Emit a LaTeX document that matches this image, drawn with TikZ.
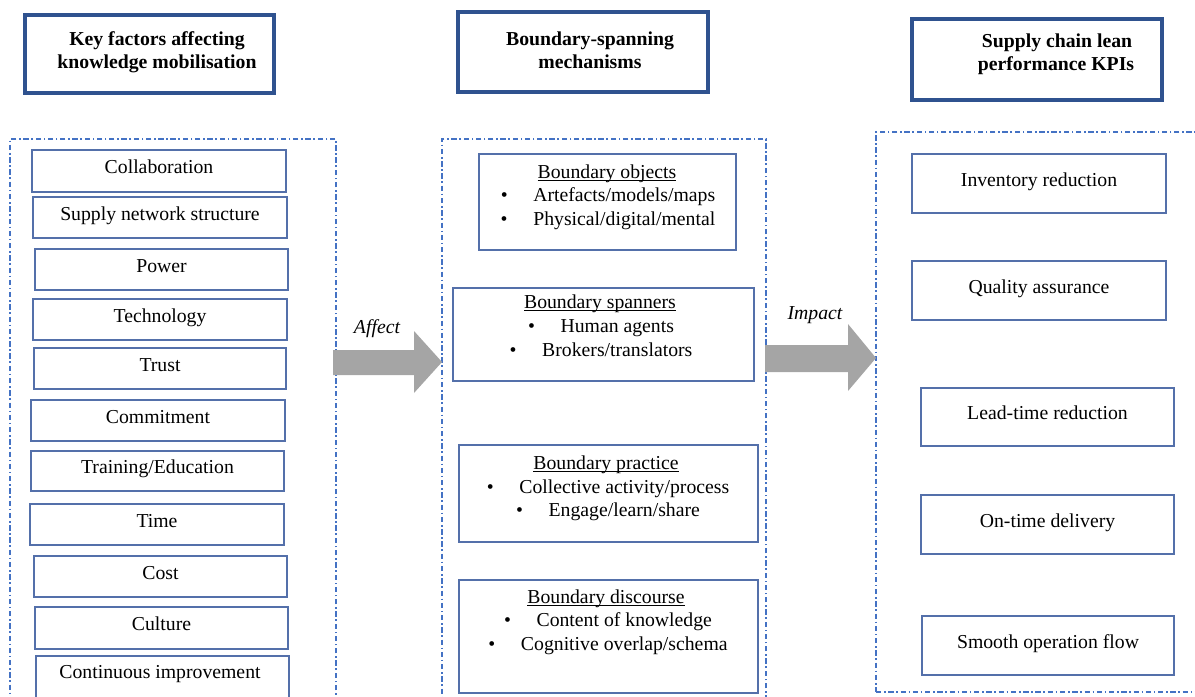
\documentclass[tikz,border=0pt]{standalone}
\usepackage{fontspec}
\setmainfont{Liberation Serif}
\definecolor{headblue}{RGB}{47,82,143}
\definecolor{boxblue}{RGB}{84,112,170}
\definecolor{frameblue}{RGB}{68,114,196}
\definecolor{arrowgray}{RGB}{165,165,165}
\newcommand{\fsz}{\fontsize{14.8}{17.7}\selectfont}
\newcommand{\itm}{\textbullet\hspace{1.3em}}
\newcommand{\ttl}[1]{\underline{\smash{#1}}}
% rectangle node from its corner coordinates: style, name, x1, y1, x2, y2, text
\newcommand{\cbox}[7]{%
  \node[#1, minimum width={(#5-#3)*0.75pt}, minimum height={(#6-#4)*0.75pt}]
    (#2) at ({(#3+#5)/2},{(#4+#6)/2}) {#7};}
\begin{document}
\begin{tikzpicture}[x=0.75pt,y=-0.75pt,
  header/.style={draw=headblue, line width=2.4pt, inner sep=0pt},
  frame/.style={draw=frameblue, line width=0.9pt,
    dash pattern=on 4pt off 2pt on 1.2pt off 2pt, inner sep=0pt},
  itembox/.style={draw=boxblue, line width=0.9pt, inner sep=0pt,
    text height=0.75em, text depth=0.35em, font=\fsz},
  txt/.style={inner sep=0pt, anchor=base, font=\fsz},
  hd/.style={txt, font=\fsz\bfseries},
  flow/.style={fill=arrowgray},
]
\useasboundingbox (0,0) rectangle (1195,696);
\clip (0,0) rectangle (1195,696);

% column headings
\cbox{header}{h1}{25}{15}{274}{93}{}
\node[hd] (h1a) at (157,45) {Key factors affecting};
\node[hd] (h1b) at (157,68) {knowledge mobilisation};

\cbox{header}{h2}{458}{12}{708}{92}{}
\node[hd] (h2a) at (590,45) {Boundary-spanning};
\node[hd] (h2b) at (590,68) {mechanisms};

\cbox{header}{h3}{912}{19}{1162}{100}{}
\node[hd] (h3a) at (1057,47) {Supply chain lean};
\node[hd] (h3b) at (1056,70) {performance KPIs};

% dash-dotted column frames
\cbox{frame}{f1}{10}{139}{336}{720}{}
\cbox{frame}{f2}{442}{139}{766}{720}{}
\cbox{frame}{f3}{876}{132}{1220}{692}{}

% key factors
\cbox{itembox}{k1}{32}{150}{286}{192}{Collaboration}
\cbox{itembox}{k2}{33}{197}{287}{238}{Supply network structure}
\cbox{itembox}{k3}{35}{249}{288}{290}{Power}
\cbox{itembox}{k4}{33}{299}{287}{340}{Technology}
\cbox{itembox}{k5}{34}{348}{286}{389}{Trust}
\cbox{itembox}{k6}{31}{400}{285}{441}{Commitment}
\cbox{itembox}{k7}{31}{451}{284}{491}{Training/Education}
\cbox{itembox}{k8}{30}{504}{284}{545}{Time}
\cbox{itembox}{k9}{34}{556}{287}{597}{Cost}
\cbox{itembox}{k10}{35}{607}{288}{649}{Culture}
\cbox{itembox}{k11}{36}{656}{289}{715}{}
\node[txt] (k11t) at (160,678) {Continuous improvement};

% boundary-spanning mechanisms
\cbox{itembox}{m1}{479}{154}{736}{250}{}
\node[txt] (m1a) at (607,178) {\ttl{Boundary objects}};
\node[txt] (m1b) at (608,201) {\itm Artefacts/models/maps};
\node[txt] (m1c) at (608,225) {\itm Physical/digital/mental};

\cbox{itembox}{m2}{453}{288}{754}{381}{}
\node[txt] (m2a) at (600,308) {\ttl{Boundary spanners}};
\node[txt] (m2b) at (601,332) {\itm Human agents};
\node[txt] (m2c) at (601,356) {\itm Brokers/translators};

\cbox{itembox}{m3}{459}{445}{758}{542}{}
\node[txt] (m3a) at (606,469) {\ttl{Boundary practice}};
\node[txt] (m3b) at (608,493) {\itm Collective activity/process};
\node[txt] (m3c) at (608,516) {\itm Engage/learn/share};

\cbox{itembox}{m4}{459}{580}{758}{693}{}
\node[txt] (m4a) at (606,603) {\ttl{Boundary discourse}};
\node[txt] (m4b) at (608,626) {\itm Content of knowledge};
\node[txt] (m4c) at (608,650) {\itm Cognitive overlap/schema};

% lean performance KPIs
\cbox{itembox}{p1}{912}{154}{1166}{213}{Inventory reduction}
\cbox{itembox}{p2}{912}{261}{1166}{320}{Quality assurance}
\cbox{itembox}{p3}{921}{388}{1174}{446}{Lead-time reduction}
\cbox{itembox}{p4}{921}{495}{1174}{554}{On-time delivery}
\cbox{itembox}{p5}{922}{616}{1174}{675}{Smooth operation flow}

% block arrows between the columns
\fill[flow] (333,350) -- (414,350) -- (414,331) -- (442,362)
  -- (414,393) -- (414,375) -- (333,375) -- cycle;
\node[txt, font=\fsz\itshape] (aff) at (377,333) {Affect};

\fill[flow] (765,345) -- (848,345) -- (848,324) -- (876,358)
  -- (848,391) -- (848,372) -- (765,372) -- cycle;
\node[txt, font=\fsz\itshape] (imp) at (815,319) {Impact};
\end{tikzpicture}
\end{document}
